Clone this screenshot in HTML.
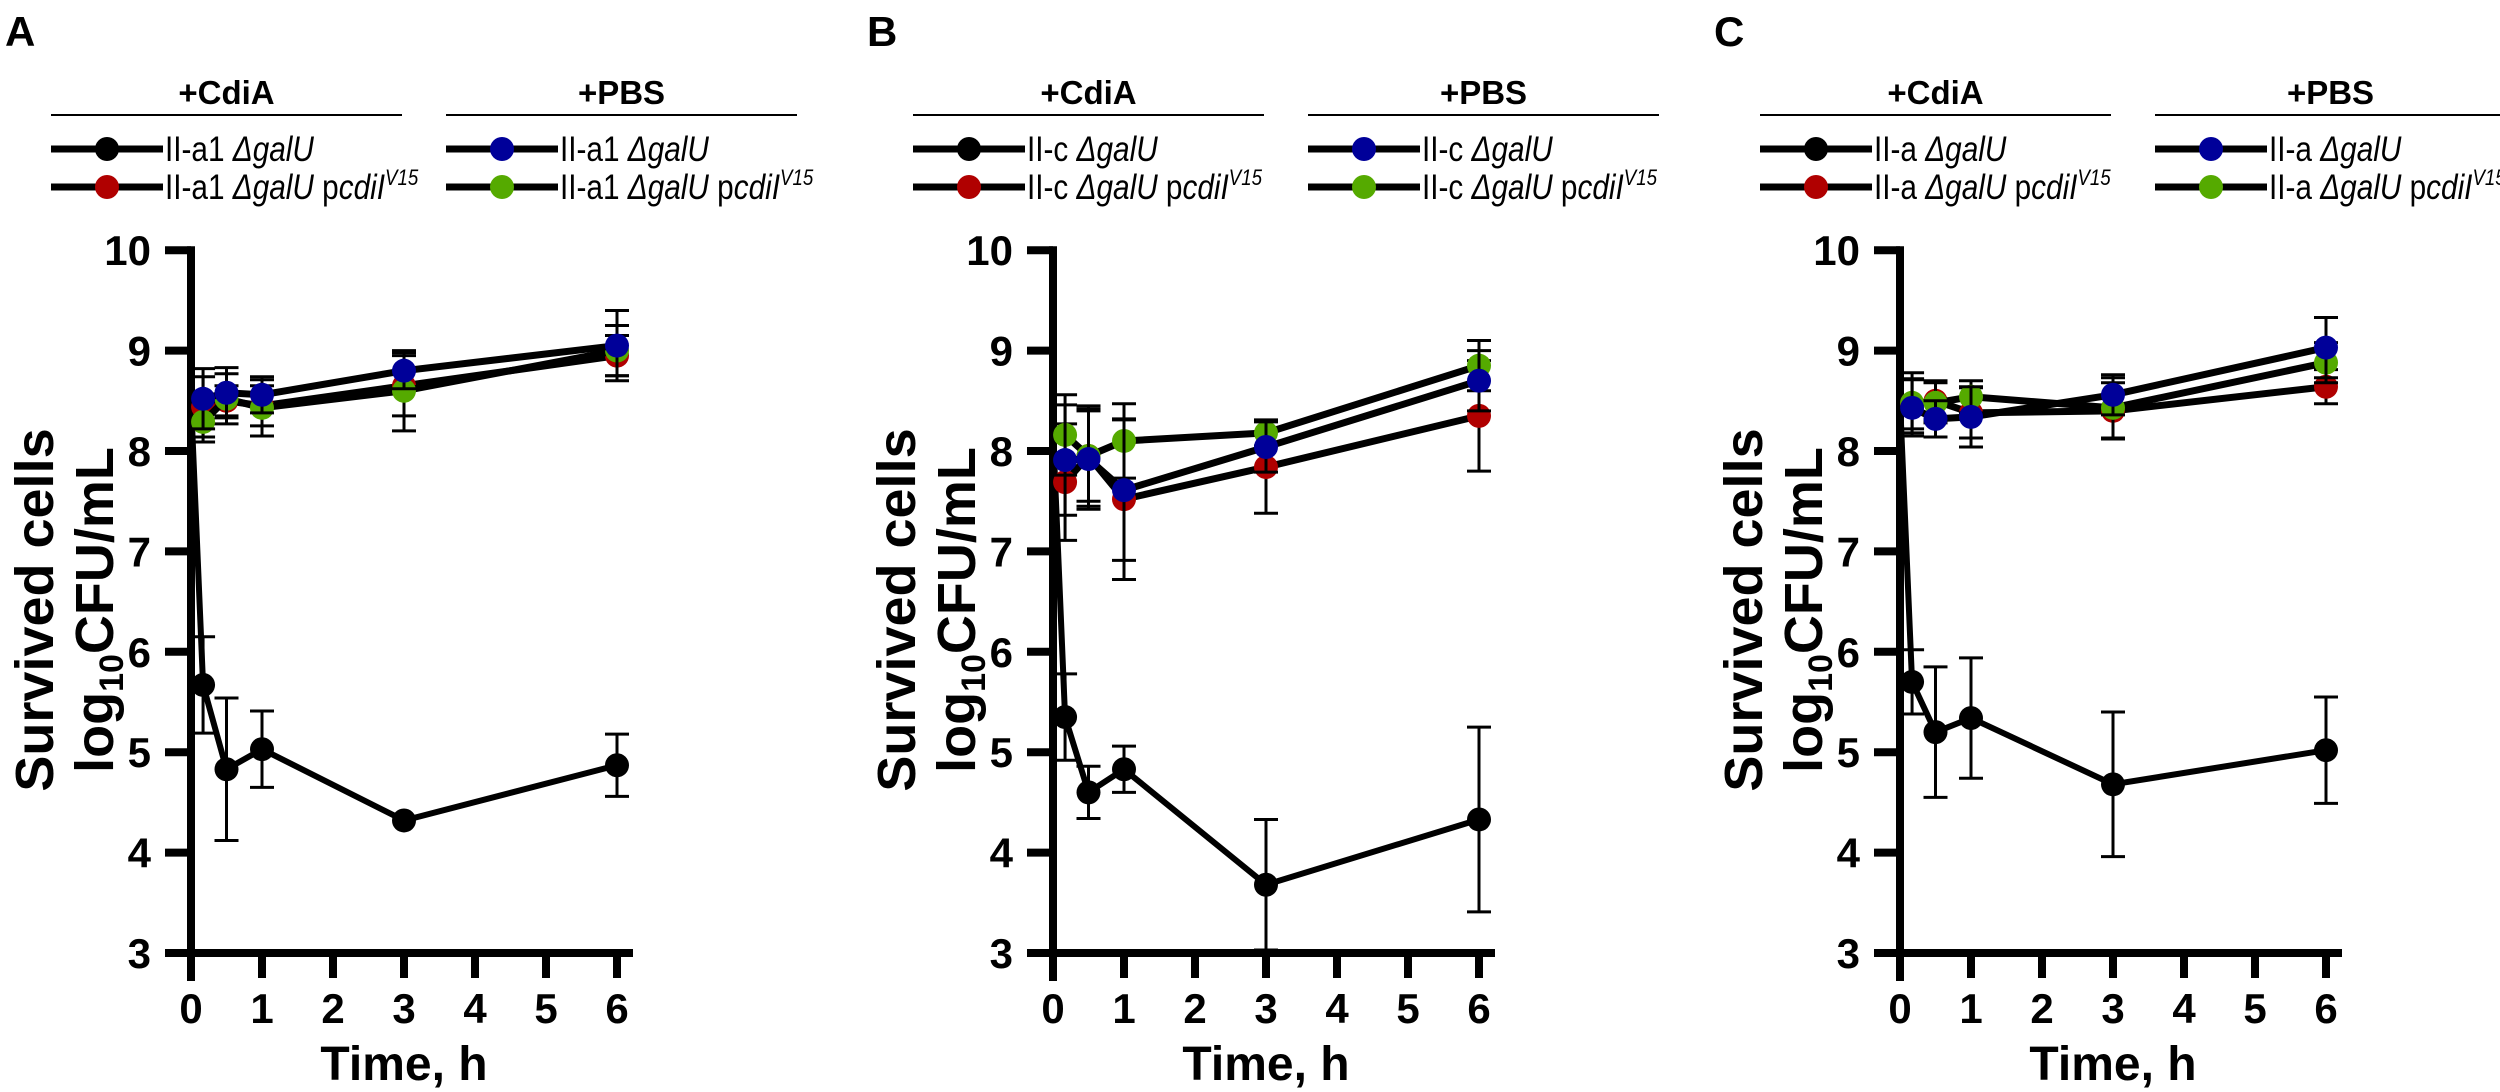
<!DOCTYPE html>
<html><head><meta charset="utf-8">
<style>
html,body{margin:0;padding:0;background:#fff;}
svg{display:block;font-family:"Liberation Sans",Arial,sans-serif;}
</style></head>
<body>
<svg id="fig" width="2500" height="1092" viewBox="0 0 2500 1092" xmlns="http://www.w3.org/2000/svg"></svg>
<script>
// ---- shared data ----
const timesColored = [0.17, 0.5, 1, 3, 6];
const timesBlack = [0, 0.17, 0.5, 1, 3, 6];
const xTicks = [0, 1, 2, 3, 4, 5, 6];
const yTicks = [3, 4, 5, 6, 7, 8, 9, 10];
const panelLetters = ["A", "B", "C"];
const strainNames = ["II-a1", "II-c", "II-a"];

// Panel A
const aBlack = [8.5, 5.67, 4.83, 5.03, 4.32, 4.87];
const aBlackErr = [0, 0.48, 0.71, 0.38, 0.03, 0.31];
const aRed = [8.44, 8.5, 8.45, 8.65, 8.95];
const aRedErr = [0.3, 0.15, 0.2, 0.3, 0.2];
const aBlue = [8.52, 8.58, 8.56, 8.8, 9.05];
const aBlueErr = [0.3, 0.25, 0.18, 0.18, 0.35];
const aGreen = [8.29, 8.52, 8.43, 8.6, 9.0];
const aGreenErr = [0.2, 0.25, 0.28, 0.4, 0.25];
// Panel B
const bBlack = [8.2, 5.35, 4.6, 4.83, 3.68, 4.33];
const bBlackErr = [0, 0.43, 0.26, 0.23, 0.65, 0.92];
const bRed = [7.69, 7.95, 7.52, 7.84, 8.35];
const bRedErr = [0.58, 0.5, 0.8, 0.46, 0.55];
const bBlue = [7.91, 7.92, 7.61, 8.04, 8.7];
const bBlueErr = [0.55, 0.5, 0.7, 0.25, 0.3];
const bGreen = [8.16, 7.95, 8.1, 8.18, 8.85];
const bGreenErr = [0.4, 0.45, 0.37, 0.13, 0.25];
// Panel C
const cBlack = [8.5, 5.7, 5.2, 5.34, 4.68, 5.02];
const cBlackErr = [0, 0.32, 0.65, 0.6, 0.72, 0.53];
const cRed = [8.47, 8.5, 8.38, 8.4, 8.64];
const cRedErr = [0.25, 0.2, 0.25, 0.28, 0.17];
const cBlue = [8.43, 8.32, 8.34, 8.56, 9.03];
const cBlueErr = [0.28, 0.18, 0.3, 0.2, 0.3];
const cGreen = [8.48, 8.48, 8.54, 8.43, 8.88];
const cGreenErr = [0.3, 0.2, 0.16, 0.3, 0.2];

const panels = [
  {ax:191, black:aBlack, blackErr:aBlackErr, red:aRed, redErr:aRedErr, blue:aBlue, blueErr:aBlueErr, green:aGreen, greenErr:aGreenErr},
  {ax:1053, black:bBlack, blackErr:bBlackErr, red:bRed, redErr:bRedErr, blue:bBlue, blueErr:bBlueErr, green:bGreen, greenErr:bGreenErr},
  {ax:1900, black:cBlack, blackErr:cBlackErr, red:cRed, redErr:cRedErr, blue:cBlue, blueErr:cBlueErr, green:cGreen, greenErr:cGreenErr}
];
const COL = {black:"#000000", red:"#b00000", blue:"#000099", green:"#55aa00"};
const NS = "http://www.w3.org/2000/svg";
const svg = document.getElementById("fig");
const Y0 = 953, YU = 100.4, XU = 71;

function mk(tag, attrs, parent, txt){
  const e = document.createElementNS(NS, tag);
  for (const k in attrs) e.setAttribute(k, attrs[k]);
  if (txt !== undefined) e.textContent = txt;
  (parent||svg).appendChild(e);
  return e;
}

panels.forEach((p, pi) => {
  const g = mk("g", {});
  
  
  const X = t => p.ax + t * XU;
  const Y = v => Y0 - (v - 3) * YU;

  const L = mk("text", {x:p.ax-186, y:46, "font-size":42, "font-weight":"bold"}, g, panelLetters[pi]);
  
  

  const hdrs = [["+CdiA", -140, 211], ["+PBS", 255, 606]];
  hdrs.forEach(h => {
    const t = mk("text", {x:p.ax+(h[1]+h[2])/2, y:104, "font-size":33, "font-weight":"bold", "text-anchor":"middle"}, g, h[0]);
    
    
    const r = mk("line", {x1:p.ax+h[1], x2:p.ax+h[2], y1:115, y2:115, stroke:"#000", "stroke-width":2}, g);
    
    
  });
  const entries = [["black", -140, 149, false], ["red", -140, 187, true], ["blue", 255, 149, false], ["green", 255, 187, true]];
  entries.forEach(en => {
    const lg = mk("g", {}, g);
    
    
    const x0 = p.ax + en[1];
    mk("line", {x1:x0, x2:x0+112, y1:en[2], y2:en[2], stroke:"#000", "stroke-width":7}, lg);
    mk("circle", {cx:x0+56, cy:en[2], r:12, fill:COL[en[0]]}, lg);
    const t = mk("text", {x:0, y:0, "font-size":35, transform:`translate(${x0+114} ${en[2]+12}) scale(0.85 1)`}, lg);
    mk("tspan", {}, t, strainNames[pi] + " ");
    mk("tspan", {"font-style":"italic"}, t, "\u0394galU");
    if (en[3]) {
      mk("tspan", {}, t, " p");
      mk("tspan", {"font-style":"italic"}, t, "cdiI");
      mk("tspan", {"font-style":"italic", "font-size":22, dy:-14}, t, "V15");
    }
  });

  const ya = mk("line", {x1:p.ax, x2:p.ax, y1:Y(10)-4, y2:Y0+28, stroke:"#000", "stroke-width":8}, g);
  
  
  const xa = mk("line", {x1:p.ax-26, x2:X(6)+16, y1:Y0, y2:Y0, stroke:"#000", "stroke-width":8}, g);
  
  
  yTicks.forEach(v => {
    mk("line", {x1:p.ax-26, x2:p.ax, y1:Y(v), y2:Y(v), stroke:"#000", "stroke-width":8}, g);
    const t = mk("text", {x:p.ax-40, y:Y(v)+15, "font-size":42, "font-weight":"bold", "text-anchor":"end"}, g, String(v));
    
    
  });
  xTicks.forEach(v => {
    mk("line", {x1:X(v), x2:X(v), y1:Y0, y2:Y0+25, stroke:"#000", "stroke-width":8}, g);
    const t = mk("text", {x:X(v), y:1023, "font-size":42, "font-weight":"bold", "text-anchor":"middle"}, g, String(v));
    
    
  });
  const xt = mk("text", {x:(p.ax+X(6))/2, y:1080, "font-size":48, "font-weight":"bold", "text-anchor":"middle"}, g, "Time, h");
  
  
  const cy = 610;
  const x1 = p.ax-138, x2 = p.ax-78;
  const yt1 = mk("text", {x:x1, y:cy, "font-size":54, "font-weight":"bold", "text-anchor":"middle", transform:`rotate(-90 ${x1} ${cy})`}, g, "Survived cells");
  
  
  const yt2 = mk("text", {x:x2, y:cy, "font-size":54, "font-weight":"bold", "text-anchor":"middle", transform:`rotate(-90 ${x2} ${cy})`}, g);
  mk("tspan", {}, yt2, "log");
  mk("tspan", {"font-size":34, dy:10}, yt2, "10");
  mk("tspan", {dy:-10}, yt2, "CFU/mL");
  
  

  const series = [["black", timesBlack, p.black, p.blackErr, 6], ["red", timesColored, p.red, p.redErr, 7], ["green", timesColored, p.green, p.greenErr, 7], ["blue", timesColored, p.blue, p.blueErr, 7]];
  series.forEach(s => {
    const sg = mk("g", {}, g);
    
    
    const ts = s[1], vs = s[2], es = s[3];
    vs.forEach((v, i) => {
      if (es[i] > 0.05) {
        const eb = mk("path", {d:`M${X(ts[i])} ${Y(v+es[i])}V${Y(v-es[i])}M${X(ts[i])-12} ${Y(v+es[i])}h24M${X(ts[i])-12} ${Y(v-es[i])}h24`, stroke:"#000", "stroke-width":3, fill:"none"}, sg);
        
        
      }
    });
    const pts = vs.map((v, i) => X(ts[i]) + "," + Y(v)).join(" ");
    const pl = mk("polyline", {points:pts, fill:"none", stroke:"#000", "stroke-width":s[4], "stroke-linejoin":"round"}, sg);
    
    
    vs.forEach((v, i) => {
      if (ts[i] === 0) return;
      const c = mk("circle", {cx:X(ts[i]), cy:Y(v), r:12, fill:COL[s[0]]}, sg);
      
      
    });
  });
});
</script>
</body></html>
